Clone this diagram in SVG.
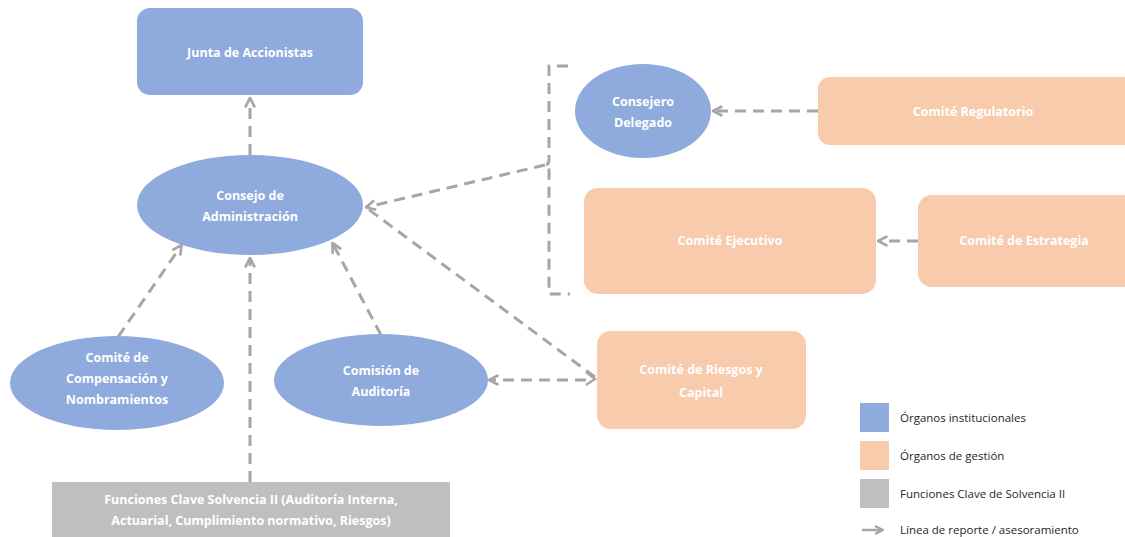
<svg xmlns="http://www.w3.org/2000/svg" width="1125" height="537" viewBox="0 0 1125 537">
<style>
.blue{fill:#8FAADC}
.orange{fill:#F8CBAD}
.gray{fill:#BFBFBF}
.lbl{font-family:"Open Sans","Liberation Sans",sans-serif;font-weight:bold;font-size:12.5px;fill:#FFFFFF;text-anchor:middle}
.leg{font-family:"Open Sans","Liberation Sans",sans-serif;font-size:11.5px;fill:#262626}
.con{fill:none;stroke:#A6A6A6;stroke-width:3;stroke-dasharray:11 7}
.solid{fill:none;stroke:#A6A6A6;stroke-width:2.5}
</style>
<defs>
<marker id="arr" viewBox="0 0 10 10" refX="8" refY="5" markerWidth="4" markerHeight="4" orient="auto" markerUnits="strokeWidth">
<path d="M1,1 L9,5 L1,9" fill="none" stroke="#A6A6A6" stroke-width="2.2"/>
</marker>
</defs>
<rect width="1125" height="537" fill="#FFFFFF"/>
<g id="connectors">
<path class="con" d="M250,155 L250,99" marker-end="url(#arr)"/>
<path class="con" d="M250,482 L250,259" marker-end="url(#arr)"/>
<path class="con" d="M118,337 L181,246" marker-end="url(#arr)"/>
<path class="con" d="M381,335 L333,244" marker-end="url(#arr)"/>
<path class="con" d="M545,165 L367,207" marker-end="url(#arr)"/>
<path class="con" d="M595,377 L368,209"/>
<path class="solid" d="M586,372 L595,379 L586,385"/>
<path class="con" d="M586,380 L490,380" marker-end="url(#arr)"/>
<path class="con" d="M818,111 L714,111" marker-end="url(#arr)"/>
<path class="con" d="M918,241 L879,241" marker-end="url(#arr)"/>
<path class="con" d="M568,66 L549,66 L549,160 Q549,165 545,165 Q549,165 549,170 L549,294 L570,294" stroke-dasharray="14 9"/>
</g>
<g id="junta">
<rect class="blue" x="137" y="8" width="226" height="87" rx="13"/>
<text class="lbl" x="250" y="57">Junta de Accionistas</text>
</g>
<g id="consejo">
<ellipse class="blue" cx="250" cy="205" rx="113" ry="50"/>
<text class="lbl" x="250" y="200">Consejo de</text>
<text class="lbl" x="250" y="221">Administración</text>
</g>
<g id="compensacion">
<ellipse class="blue" cx="117" cy="383" rx="107" ry="47"/>
<text class="lbl" x="117" y="362">Comité de</text>
<text class="lbl" x="117" y="383">Compensación y</text>
<text class="lbl" x="117" y="404">Nombramientos</text>
</g>
<g id="auditoria">
<ellipse class="blue" cx="381" cy="380" rx="107" ry="46"/>
<text class="lbl" x="381" y="375">Comisión de</text>
<text class="lbl" x="381" y="396">Auditoría</text>
</g>
<g id="funciones">
<rect class="gray" x="52" y="482" width="398" height="60"/>
<text class="lbl" x="251" y="504">Funciones Clave Solvencia II (Auditoría Interna,</text>
<text class="lbl" x="251" y="525">Actuarial, Cumplimiento normativo, Riesgos)</text>
</g>
<g id="consejero">
<ellipse class="blue" cx="643" cy="111" rx="68" ry="47"/>
<text class="lbl" x="643" y="106">Consejero</text>
<text class="lbl" x="643" y="127">Delegado</text>
</g>
<g id="regulatorio">
<rect class="orange" x="818" y="77" width="320" height="68" rx="12"/>
<text class="lbl" x="973" y="116">Comité Regulatorio</text>
</g>
<g id="ejecutivo">
<rect class="orange" x="584" y="188" width="292" height="106" rx="14"/>
<text class="lbl" x="730" y="245">Comité Ejecutivo</text>
</g>
<g id="estrategia">
<rect class="orange" x="918" y="195" width="220" height="92" rx="14"/>
<text class="lbl" x="1024" y="245">Comité de Estrategia</text>
</g>
<g id="riesgos">
<rect class="orange" x="597" y="331" width="209" height="98" rx="14"/>
<text class="lbl" x="701" y="374">Comité de Riesgos y</text>
<text class="lbl" x="701" y="397">Capital</text>
</g>
<g id="legend">
<rect class="blue" x="860" y="403" width="29" height="29"/>
<rect class="orange" x="860" y="441" width="29" height="29"/>
<rect class="gray" x="860" y="479" width="29" height="29"/>
<path d="M862,530 L882,530" stroke="#A6A6A6" stroke-width="2.5" marker-end="url(#arr)"/>
<text class="leg" x="900" y="422">Órganos institucionales</text>
<text class="leg" x="900" y="460">Órganos de gestión</text>
<text class="leg" x="900" y="498">Funciones Clave de Solvencia II</text>
<text class="leg" x="900" y="534">Línea de reporte / asesoramiento</text>
</g>
</svg>
